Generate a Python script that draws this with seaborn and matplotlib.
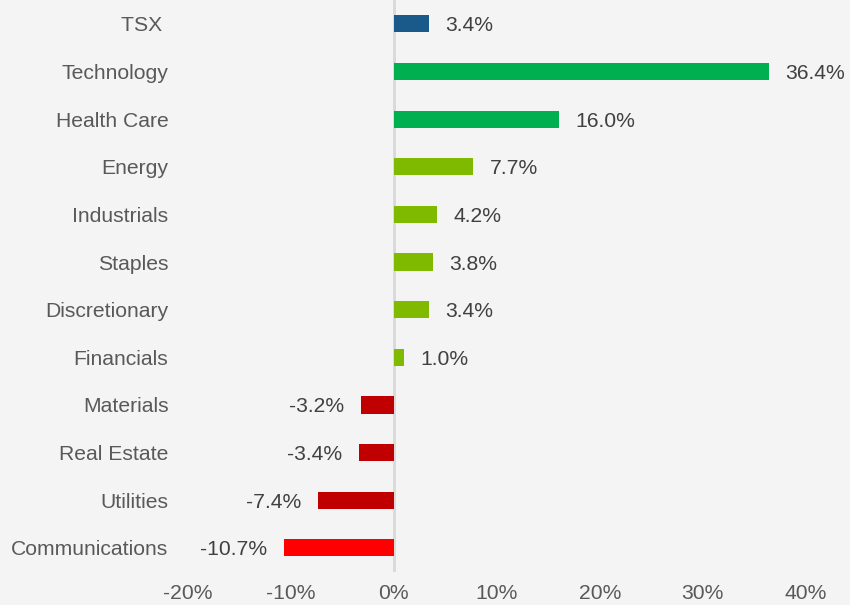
import pandas as pd
import matplotlib.pyplot as plt
import seaborn as sns

# Sector returns (%), top to bottom as shown
sectors = ["TSX ", "Technology", "Health Care", "Energy", "Industrials", "Staples",
           "Discretionary", "Financials", "Materials", "Real Estate", "Utilities",
           "Communications"]
returns = [3.4, 36.4, 16.0, 7.7, 4.2, 3.8, 3.4, 1.0, -3.2, -3.4, -7.4, -10.7]
bar_colors = ["#1a5a8a", "#00b050", "#00b050", "#7fba00", "#7fba00", "#7fba00",
              "#7fba00", "#7fba00", "#c00000", "#c00000", "#c00000", "#ff0000"]
x_ticks = [-20, -10, 0, 10, 20, 30, 40]

BG = "#f4f4f4"
FS = 15.2


def main():
    df = pd.DataFrame({"Sector": sectors, "Return": returns})

    sns.set_style("white")
    plt.rcParams["font.family"] = ["Liberation Sans", "DejaVu Sans"]

    fig = plt.figure(figsize=(8.5, 6.05), dpi=100, facecolor=BG)
    ax = fig.add_axes([0.221, 0.055, 0.727, 0.945], facecolor=BG)

    sns.barplot(data=df, x="Return", y="Sector", hue="Sector", palette=bar_colors,
                orient="h", width=0.36, legend=False, ax=ax, saturation=1,
                linewidth=0)

    ax.set_xlim(-20, 40)
    ax.set_ylim(len(sectors) - 0.5, -0.5)
    ax.set_xticks(x_ticks)
    ax.set_xticklabels([f"{t}%" for t in x_ticks])
    ax.set_xlabel("")
    ax.set_ylabel("")

    for s in ax.spines.values():
        s.set_visible(False)
    ax.axvline(0, color="#d9d9d9", lw=2, zorder=0)

    ax.tick_params(axis="both", length=0, labelsize=FS, labelcolor="#595959")
    ax.tick_params(axis="y", pad=14)
    ax.tick_params(axis="x", pad=9)

    for i, v in enumerate(returns):
        off = 12 if v >= 0 else -12
        ax.annotate(f"{v:.1f}%", (v, i), xytext=(off, 0), textcoords="offset points",
                    ha="left" if v >= 0 else "right", va="center_baseline",
                    fontsize=FS, color="#404040")

    fig.savefig("out.png", dpi=100, facecolor=BG)


if __name__ == "__main__":
    main()
